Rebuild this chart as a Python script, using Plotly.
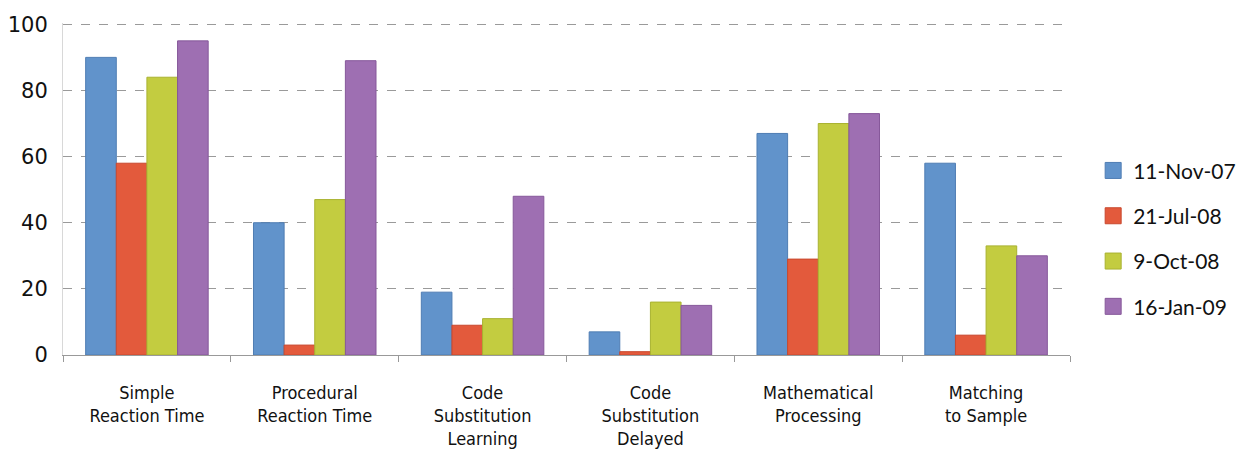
import plotly.graph_objects as go

categories = [
    "Simple<br>Reaction Time",
    "Procedural<br>Reaction Time",
    "Code<br>Substitution<br>Learning",
    "Code<br>Substitution<br>Delayed",
    "Mathematical<br>Processing",
    "Matching<br>to Sample",
]
series_names = ["11-Nov-07", "21-Jul-08", "9-Oct-08", "16-Jan-09"]
nov07 = [90, 40, 19, 7, 67, 58]
jul08 = [58, 3, 9, 1, 29, 6]
oct08 = [84, 47, 11, 16, 70, 33]
jan09 = [95, 89, 48, 15, 73, 30]
colors = ["#6193CB", "#E35A3C", "#C3CC40", "#9E6FB2"]
edges = ["#4F7DB3", "#C8482E", "#A9B230", "#86589A"]

fig = go.Figure()
for name, vals, col, edge in zip(series_names, [nov07, jul08, oct08, jan09], colors, edges):
    fig.add_trace(go.Bar(
        x=categories, y=vals, name=name, legendgroup=name, showlegend=False,
        marker=dict(color=col, line=dict(color=edge, width=1)),
    ))
    # square swatch for the legend entry
    fig.add_trace(go.Scatter(
        x=[None], y=[None], mode="markers", name=name, legendgroup=name,
        marker=dict(symbol="square", size=19, color=col, line=dict(color=edge, width=1)),
    ))

fig.update_layout(
    width=1251, height=456,
    margin=dict(l=63, r=181, t=23, b=101, autoexpand=False),
    paper_bgcolor="white", plot_bgcolor="white",
    barmode="group", bargap=0.27, bargroupgap=0.0,
    legend=dict(
        x=1.023, y=0.35, xanchor="left", yanchor="middle",
        font=dict(family="Lato, Open Sans, sans-serif", size=21, color="#111"),
        tracegroupgap=15, itemwidth=30,
    ),
    xaxis=dict(
        type="category", tickson="boundaries", ticks="outside", ticklen=6,
        tickcolor="#999", showline=True, linecolor="#999", linewidth=1,
        tickfont=dict(family="DejaVu Sans Condensed, Liberation Sans, Arial, sans-serif",
                      size=18, color="#111"),
        ticklabelstandoff=21,
        showgrid=False,
    ),
    yaxis=dict(
        range=[0, 100.4], tickvals=[0, 20, 40, 60, 80, 100],
        showgrid=True, gridcolor="#9a9a9a", griddash="dash", gridwidth=1,
        zeroline=False, showline=True, linecolor="#d8d8d8", linewidth=1,
        tickfont=dict(family="DejaVu Sans, sans-serif", size=21, color="#111"),
        ticks="", ticklabelstandoff=10,
    ),
)

fig.write_html("out.html")
